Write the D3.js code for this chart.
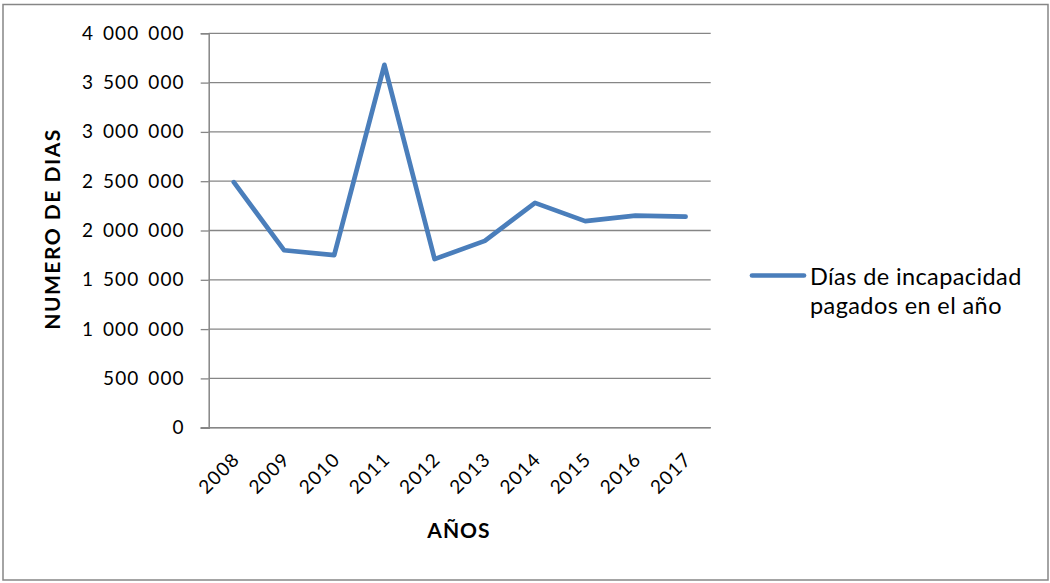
<!DOCTYPE html>
<html>
<head>
<meta charset="utf-8">
<script src="https://cdn.jsdelivr.net/npm/d3@7"></script>
<style>
  html, body { margin: 0; padding: 0; background: #fff; }
  svg { display: block; font-family: Lato, "Open Sans", sans-serif; }
</style>
</head>
<body>
<svg id="chart" width="1050" height="583"></svg>
<script>
const years = ["2008","2009","2010","2011","2012","2013","2014","2015","2016","2017"];
const diasIncapacidad = [2490000, 1800000, 1750000, 3680000, 1710000, 1895000, 2280000, 2095000, 2150000, 2140000];
const yTicks = [0, 500000, 1000000, 1500000, 2000000, 2500000, 3000000, 3500000, 4000000];
const seriesName = ["Días de incapacidad", "pagados en el año"];
const yTitle = "NUMERO DE DIAS";
const xTitle = "AÑOS";

const svg = d3.select("#chart");
const plot = { left: 208.7, right: 710.7, top: 33.3, bottom: 427.7 };
const gridColor = "#868686";
const lineColor = "#4A7EBB";

const loc = d3.formatLocale({ decimal: ",", thousands: " ", grouping: [3], currency: ["", ""] });
const fmt = loc.format(",d");

const x = d3.scaleBand().domain(years).range([plot.left, plot.right]);
const y = d3.scaleLinear().domain([0, 4000000]).range([plot.bottom, plot.top]);

// outer border
svg.append("rect").attr("x", 3).attr("y", 4.5).attr("width", 1045).attr("height", 575.5)
  .attr("fill", "none").attr("stroke", gridColor).attr("stroke-width", 1.5);

// gridlines + y ticks
const yAxis = d3.axisLeft(y).tickValues(yTicks).tickFormat(fmt).tickSize(8).tickPadding(16);
const gy = svg.append("g").attr("transform", `translate(${plot.left},0)`).call(yAxis);
gy.select(".domain").attr("stroke", gridColor).attr("stroke-width", 1.5);
gy.selectAll(".tick line").attr("stroke", gridColor).attr("stroke-width", 1.3);
gy.selectAll(".tick text").attr("font-size", 19).attr("fill", "#000")
  .attr("font-family", "Lato, sans-serif").style("word-spacing", "3px").style("letter-spacing", "1.1px");

svg.append("g").selectAll("line").data(yTicks).join("line")
  .attr("x1", plot.left).attr("x2", plot.right)
  .attr("y1", d => y(d)).attr("y2", d => y(d))
  .attr("stroke", gridColor).attr("stroke-width", 1.3);

// x axis line (extends slightly left)
svg.append("line").attr("x1", plot.left - 8).attr("x2", plot.right)
  .attr("y1", plot.bottom).attr("y2", plot.bottom)
  .attr("stroke", gridColor).attr("stroke-width", 1.5);

// x labels rotated
svg.append("g").selectAll("text").data(years).join("text")
  .attr("transform", d => `translate(${x(d) + x.bandwidth() / 2 + 7},${plot.bottom + 33}) rotate(-45)`)
  .attr("text-anchor", "end").attr("font-size", 19).style("letter-spacing", "1.1px")
  .attr("fill", "#000").text(d => d);

// line
const line = d3.line()
  .x((d, i) => x(years[i]) + x.bandwidth() / 2)
  .y(d => y(d));
svg.append("path").datum(diasIncapacidad)
  .attr("d", line).attr("fill", "none").attr("stroke", lineColor)
  .attr("stroke-width", 4.7).attr("stroke-linejoin", "round").attr("stroke-linecap", "round");

// axis titles
svg.append("text").attr("transform", `translate(60,229) rotate(-90)`)
  .attr("text-anchor", "middle").attr("font-size", 21).attr("font-weight", "bold")
  .style("letter-spacing", "1.5px")
  .attr("fill", "#000").text(yTitle);
svg.append("text").attr("x", 459).attr("y", 538)
  .attr("text-anchor", "middle").attr("font-size", 21).attr("font-weight", "bold")
  .style("letter-spacing", "1px")
  .attr("fill", "#000").text(xTitle);

// legend
svg.append("line").attr("x1", 752).attr("x2", 804).attr("y1", 275.5).attr("y2", 275.5)
  .attr("stroke", lineColor).attr("stroke-width", 4.7).attr("stroke-linecap", "round");
svg.append("text").attr("x", 810).attr("y", 285).attr("font-size", 23.5).attr("fill", "#000")
  .style("letter-spacing", "0.4px")
  .selectAll("tspan").data(seriesName).join("tspan")
  .attr("x", 810).attr("dy", (d, i) => i === 0 ? 0 : 29).text(d => d);
</script>
</body>
</html>
